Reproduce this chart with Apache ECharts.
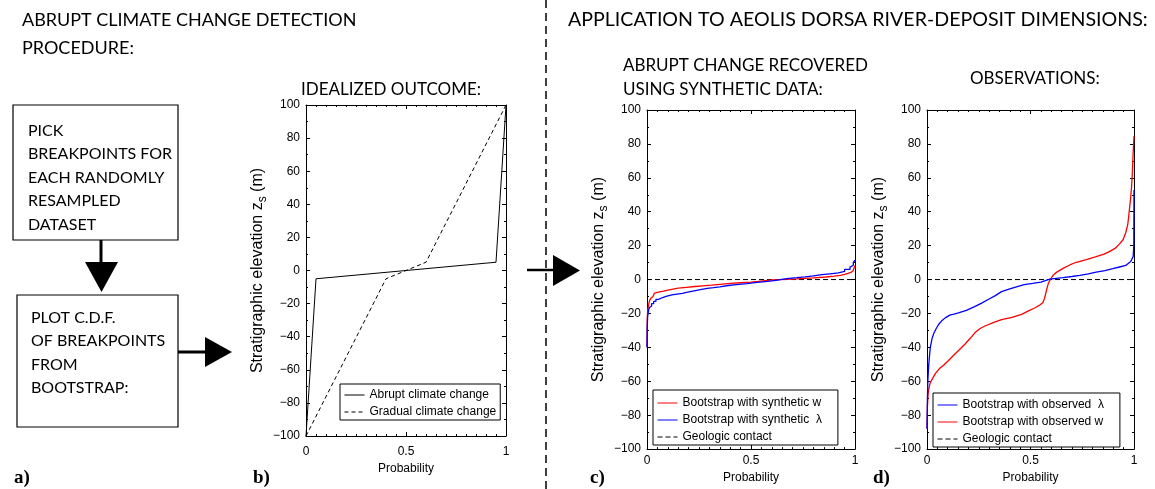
<!DOCTYPE html>
<html>
<head>
<meta charset="utf-8">
<script src="https://cdn.jsdelivr.net/npm/echarts@6/dist/echarts.min.js"></script>
<style>
  html, body { margin: 0; padding: 0; background: #fff; }
  #chart { width: 1155px; height: 489px; }
</style>
</head>
<body>
<div id="chart"></div>
<script>
// ---- Panel b: idealized outcomes (probability, elevation in m) ----
const abruptIdeal = [[0, -100], [0.05, -5], [0.95, 5], [1, 100]];
const gradualIdeal = [[0, -100], [0.4, -5], [0.6, 5], [1, 100]];

// ---- Panel c: bootstrap breakpoints from synthetic data ----
const synthW = [
  [0, -40], [0.001, -24], [0.003, -19], [0.005, -17], [0.008, -15], [0.011, -13],
  [0.014, -12], [0.018, -11], [0.023, -10], [0.029, -9], [0.036, -8], [0.045, -7.3],
  [0.06, -6.8], [0.08, -6.2], [0.1, -5.6], [0.125, -5.1], [0.15, -4.6], [0.19, -4.1],
  [0.23, -3.7], [0.27, -3.3], [0.31, -2.8], [0.35, -2.3], [0.4, -1.9], [0.45, -1.5],
  [0.5, -1.1], [0.535, -0.2], [0.6, 0.1], [0.67, 0.4], [0.72, 1], [0.8, 1.5],
  [0.86, 2], [0.9, 2.5], [0.93, 3], [0.95, 3.6], [0.966, 4.2], [0.98, 5],
  [0.99, 6], [0.996, 7], [1, 8.3]
];
const synthLambda = [
  [0, -40], [0.001, -28], [0.003, -22], [0.005, -20], [0.008, -18], [0.012, -16.5],
  [0.016, -15.6], [0.022, -14.2], [0.032, -12.9], [0.043, -11.7], [0.056, -10.6],
  [0.075, -9.8], [0.096, -9.1], [0.12, -8.6], [0.144, -8.1], [0.17, -7.5], [0.19, -6.8],
  [0.22, -6], [0.256, -5.2], [0.29, -4.8], [0.32, -4.3], [0.35, -3.5], [0.39, -3],
  [0.43, -2.4], [0.48, -1.7], [0.53, -1.1], [0.58, -0.5], [0.62, 0.6], [0.67, 1.1],
  [0.72, 1.6], [0.76, 2.2], [0.8, 2.9], [0.84, 3.4], [0.88, 3.9], [0.92, 4.8],
  [0.95, 6], [0.976, 7.3], [0.985, 8.4], [0.992, 10.2], [1, 11.5]
];

// ---- Panel d: bootstrap breakpoints from observed river deposits ----
const obsLambda = [
  [0, -88], [0.002, -70], [0.004, -60], [0.008, -51], [0.012, -45], [0.016, -40],
  [0.024, -35], [0.032, -32], [0.044, -29], [0.056, -26.5], [0.07, -24.5],
  [0.088, -22.6], [0.11, -21], [0.13, -20.4], [0.152, -19.7], [0.19, -18.2],
  [0.23, -16], [0.264, -13.9], [0.3, -11.5], [0.33, -9.5], [0.36, -7.1], [0.4, -5.5],
  [0.44, -4], [0.47, -3], [0.51, -2.3], [0.55, -1.5], [0.593, 0.2], [0.657, 1.1],
  [0.7, 1.8], [0.738, 2.5], [0.78, 3.4], [0.817, 4.4], [0.86, 5.3], [0.897, 6.4],
  [0.93, 7.4], [0.96, 8.3], [0.984, 10.6], [0.996, 13.5], [0.999, 20], [1, 52.8]
];
const obsW = [
  [0, -88], [0.002, -75], [0.005, -68], [0.008, -65], [0.015, -61], [0.024, -59],
  [0.04, -55.5], [0.06, -52.5], [0.08, -50.5], [0.104, -47.7], [0.13, -44.5],
  [0.155, -41.5], [0.184, -38], [0.21, -34.5], [0.232, -31.3], [0.255, -29],
  [0.28, -27.4], [0.32, -25.4], [0.36, -23.6], [0.41, -22.3], [0.457, -20.5],
  [0.49, -18.5], [0.52, -16.8], [0.545, -15], [0.56, -13.5], [0.568, -11],
  [0.574, -8], [0.58, -5], [0.587, -2], [0.594, -0.4], [0.605, 1.8], [0.617, 3.5],
  [0.635, 5], [0.657, 6.6], [0.69, 8.6], [0.721, 10.2], [0.77, 11.8], [0.817, 13.5],
  [0.855, 15], [0.881, 16.5], [0.91, 18.5], [0.929, 20.9], [0.947, 23.5],
  [0.96, 27.6], [0.97, 32.5], [0.976, 39.2], [0.982, 46], [0.987, 52.8],
  [0.991, 60], [0.995, 72], [0.998, 80], [1, 84.6]
];
const contact = [[0, 0], [1, 0]];

// ---- axis ticks ----
const probTicks = [0, 0.5, 1];
const elevRange = [-100, 100];

const HELV = 'Liberation Sans';
const HUM = 'Lato';

const grids = [
  { left: 306, top: 105, width: 200, height: 331 },
  { left: 647, top: 110, width: 208, height: 345 },
  { left: 927, top: 110, width: 207, height: 345 }
];
const xLabelMargin = [10, 6, 6];
const xNameGap = [16, 18, 18];

const minusFmt = v => String(v).replace('-', '\u2212');

const xAxes = [], yAxes = [];
grids.forEach((g, i) => {
  const common = {
    type: 'value', gridIndex: i, min: probTicks[0], max: probTicks[probTicks.length - 1],
    interval: probTicks[1] - probTicks[0],
    axisLine: { onZero: false, lineStyle: { color: '#000', width: 1 } },
    axisTick: { inside: true, length: 4, lineStyle: { color: '#000' } },
    minorTick: { show: true, splitNumber: 10, length: 2, lineStyle: { color: '#000' } },
    splitLine: { show: false }
  };
  xAxes.push(Object.assign({}, common, {
    position: 'bottom',
    name: 'Probability', nameLocation: 'middle', nameGap: xNameGap[i],
    nameTextStyle: { fontFamily: HELV, fontSize: 12, color: '#000' },
    axisLabel: { fontFamily: HELV, fontSize: 12, color: '#000', margin: xLabelMargin[i],
      formatter: v => String(v) }
  }));
  xAxes.push(Object.assign({}, common, { position: 'top', axisLabel: { show: false } }));

  const ycommon = {
    type: 'value', gridIndex: i, min: elevRange[0], max: elevRange[1], interval: 20,
    axisLine: { onZero: false, lineStyle: { color: '#000', width: 1 } },
    axisTick: { inside: true, length: 4, lineStyle: { color: '#000' } },
    minorTick: { show: true, splitNumber: 2, length: 2, lineStyle: { color: '#000' } },
    splitLine: { show: false }
  };
  yAxes.push(Object.assign({}, ycommon, {
    position: 'left',
    name: 'Stratigraphic elevation z{s|s} (m)', nameLocation: 'middle', nameGap: 36,
    nameTextStyle: {
      fontFamily: HELV, fontSize: 16, color: '#000', lineHeight: 22,
      rich: { s: { fontFamily: HELV, fontSize: 12, color: '#000', lineHeight: 10, verticalAlign: 'bottom' } }
    },
    axisLabel: { fontFamily: HELV, fontSize: 12, color: '#000', margin: 6, formatter: minusFmt }
  }));
  yAxes.push(Object.assign({}, ycommon, { position: 'right', axisLabel: { show: false } }));
});

function lineSeries(name, data, grid, color, opts) {
  return Object.assign({
    type: 'line', name, data, xAxisIndex: grid * 2, yAxisIndex: grid * 2,
    symbol: 'none', silent: true, animation: false,
    lineStyle: { color, width: 1.3 },
    itemStyle: { color }
  }, opts || {});
}

const series = [
  lineSeries('Abrupt climate change', abruptIdeal, 0, '#000', { lineStyle: { color: '#000', width: 1 } }),
  lineSeries('Gradual climate change', gradualIdeal, 0, '#000', { lineStyle: { color: '#000', width: 1, type: [4, 3] } }),
  lineSeries('Geologic contact', contact, 1, '#000', { lineStyle: { color: '#000', width: 1, type: [5, 3] } }),
  lineSeries('Bootstrap with synthetic w', synthW, 1, '#ff0000', { step: 'end' }),
  lineSeries('Bootstrap with synthetic  \u03bb', synthLambda, 1, '#0000ff', { step: 'end' }),
  lineSeries('Geologic contact', contact, 2, '#000', { lineStyle: { color: '#000', width: 1, type: [5, 3] } }),
  lineSeries('Bootstrap with observed w', obsW, 2, '#ff0000'),
  lineSeries('Bootstrap with observed  \u03bb', obsLambda, 2, '#0000ff')
];

function legendBox(names, left, top, gap, pad) {
  return {
    data: names, left, top, orient: 'vertical', itemWidth: 20, itemHeight: 14, itemGap: gap,
    padding: pad, borderColor: '#000', borderWidth: 1, backgroundColor: '#fff',
    selectedMode: false, itemStyle: { opacity: 0 }, lineStyle: { width: 1 },
    textStyle: { fontFamily: HELV, fontSize: 12, color: '#000' }, z: 10
  };
}

const legends = [
  legendBox(['Abrupt climate change', 'Gradual climate change'], 340, 384, 5, [5, 4, 2, 4]),
  legendBox(['Bootstrap with synthetic w', 'Bootstrap with synthetic  \u03bb', 'Geologic contact'], 653, 390, 5, [7, 16, 2, 4]),
  legendBox(['Bootstrap with observed  \u03bb', 'Bootstrap with observed w', 'Geologic contact'], 933, 393, 5, [6, 16, 2, 4])
];

// ---- annotations, flowchart and arrows ----
function txt(text, x, y, font, align) {
  return { type: 'text', x, y, silent: true, z: 20,
    style: { text, font, fill: '#000', align: align || 'left', verticalAlign: 'middle' } };
}
function tri(points) {
  return { type: 'polygon', silent: true, z: 20, shape: { points }, style: { fill: '#000' } };
}
function seg(x1, y1, x2, y2, w, dash) {
  return { type: 'line', silent: true, z: 20, shape: { x1, y1, x2, y2 },
    style: { stroke: '#000', lineWidth: w, lineDash: dash || null } };
}
function box(x, y, width, height) {
  return { type: 'rect', silent: true, z: 20, shape: { x, y, width, height },
    style: { fill: 'none', stroke: '#000', lineWidth: 1.2 } };
}
function para(text, x, y, lh) {
  return { type: 'text', x, y, silent: true, z: 20,
    style: { text, font: '16px ' + HUM, fill: '#000', align: 'left', verticalAlign: 'top', lineHeight: lh } };
}

const TF = '18px ' + HUM;
const TR = '19.6px ' + HUM;
const PF = '17px ' + HUM;
const LF = 'bold 19px "Liberation Serif"';
const graphic = [
  txt('ABRUPT CLIMATE CHANGE DETECTION', 22, 20, TF),
  txt('PROCEDURE:', 22, 48, TF),
  txt('APPLICATION TO AEOLIS DORSA RIVER-DEPOSIT DIMENSIONS:', 568, 20, TR),
  txt('IDEALIZED OUTCOME:', 391, 90, PF, 'center'),
  txt('ABRUPT CHANGE RECOVERED', 623, 66, PF),
  txt('USING SYNTHETIC DATA:', 623, 90, PF),
  txt('OBSERVATIONS:', 970, 79, PF),
  box(13, 105, 165, 135),
  para('PICK\nBREAKPOINTS FOR\nEACH RANDOMLY\nRESAMPLED\nDATASET', 28, 119, 23.5),
  seg(101, 240, 101, 263, 3),
  tri([[85, 262], [118, 262], [101.5, 292]]),
  box(17, 295, 161, 132),
  para('PLOT C.D.F.\nOF BREAKPOINTS\nFROM\nBOOTSTRAP:', 31, 306, 23.5),
  seg(178, 352, 206, 352, 3),
  tri([[205, 337], [205, 367], [232, 352]]),
  seg(546, 0, 546, 489, 1.5, [8, 5]),
  seg(527, 270, 554, 270, 2.5),
  tri([[553, 255], [553, 286], [580, 270.5]]),
  txt('a)', 14, 478, LF),
  txt('b)', 253, 478, LF),
  txt('c)', 590, 478, LF),
  txt('d)', 873, 478, LF)
];

const chart = echarts.init(document.getElementById('chart'), null, { renderer: 'canvas' });
chart.setOption({
  backgroundColor: '#fff',
  animation: false,
  grid: grids.map(g => Object.assign({ containLabel: false }, g)),
  xAxis: xAxes,
  yAxis: yAxes,
  legend: legends,
  series,
  graphic
});
</script>
</body>
</html>
